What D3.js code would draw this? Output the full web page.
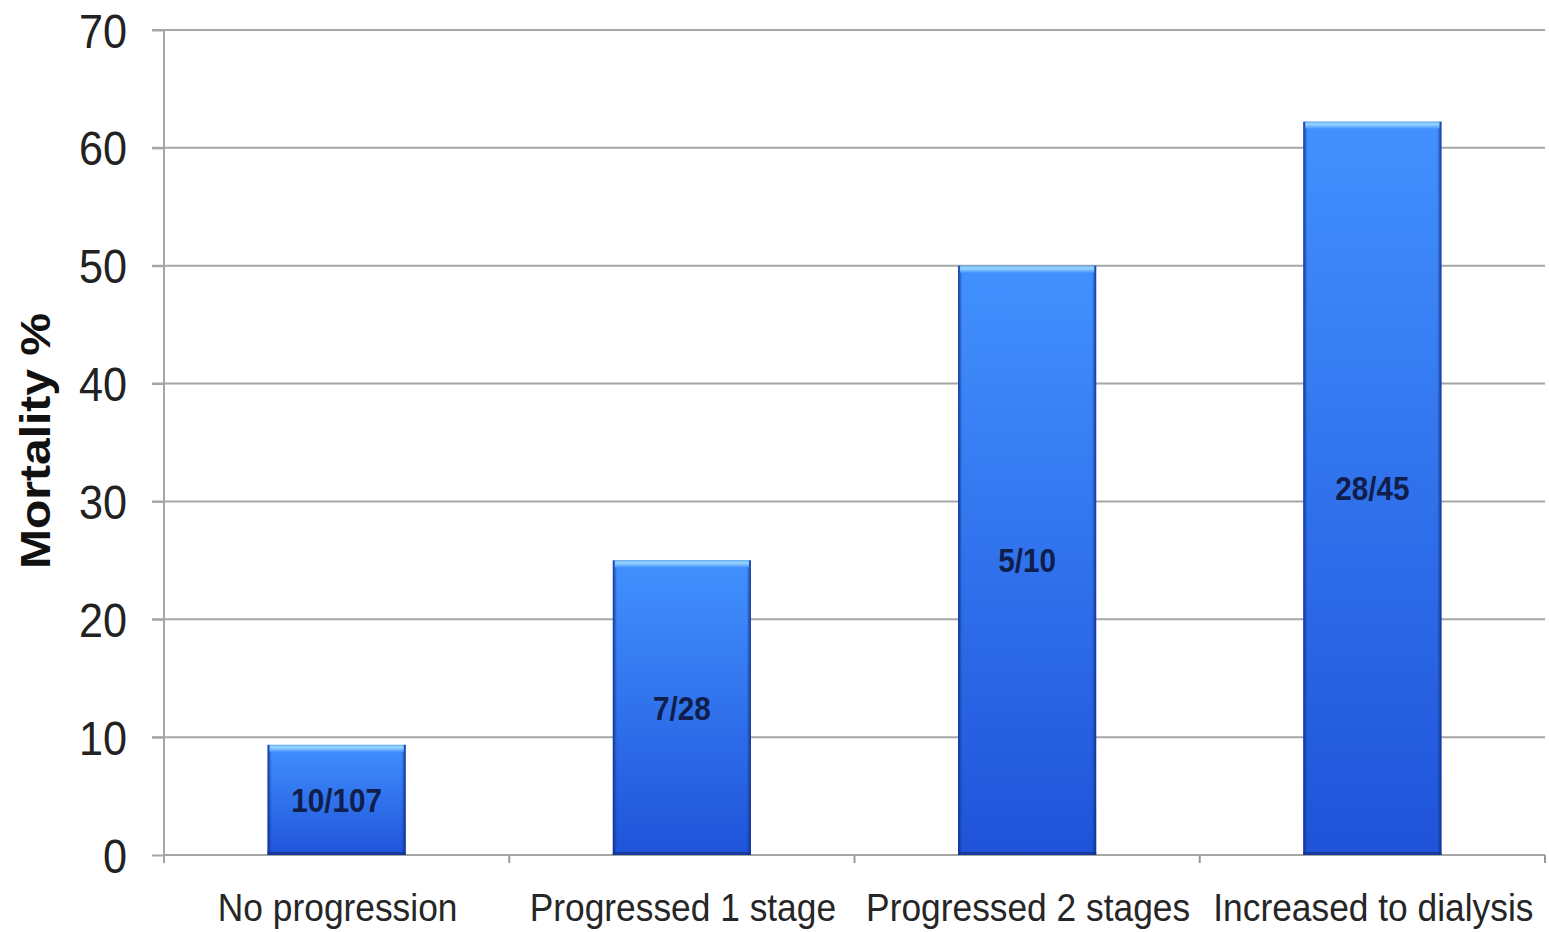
<!DOCTYPE html>
<html>
<head>
<meta charset="utf-8">
<script src="https://cdn.jsdelivr.net/npm/d3@7"></script>
<style>
  html, body { margin: 0; padding: 0; background: #ffffff; }
  svg { display: block; }
  text { font-family: Arial, "Liberation Sans", Helvetica, sans-serif; }
</style>
</head>
<body>
<svg id="chart" width="1549" height="932"></svg>
<script>
// Mortality by stage of kidney-injury progression
const categories = ["No progression", "Progressed 1 stage", "Progressed 2 stages", "Increased to dialysis"];
const deaths = [10, 7, 5, 28];
const patients = [107, 28, 10, 45];
const yTicks = [0, 10, 20, 30, 40, 50, 60, 70];

const mortality = deaths.map((d, i) => d / patients[i] * 100);
const ratioLabels = deaths.map((d, i) => `${d}/${patients[i]}`);

const svg = d3.select("#chart");

const plotLeft = 164, plotRight = 1545, plotTop = 30, plotBottom = 855;

const x = d3.scaleBand().domain(categories).range([plotLeft, plotRight])
  .paddingInner(0.6).paddingOuter(0.3);
const y = d3.scaleLinear().domain([0, 70]).range([plotBottom, plotTop]);

// gradients
const defs = svg.append("defs");
const grad = defs.append("linearGradient").attr("id", "barFill")
  .attr("x1", 0).attr("y1", 0).attr("x2", 0).attr("y2", 1);
grad.append("stop").attr("offset", "0%").attr("stop-color", "#4291ff");
grad.append("stop").attr("offset", "100%").attr("stop-color", "#1f53d9");

const side = defs.append("linearGradient").attr("id", "barSide")
  .attr("x1", 0).attr("y1", 0).attr("x2", 1).attr("y2", 0);
side.append("stop").attr("offset", "0%").attr("stop-color", "#102f86").attr("stop-opacity", 0.9);
side.append("stop").attr("offset", "3%").attr("stop-color", "#102f86").attr("stop-opacity", 0);
side.append("stop").attr("offset", "97%").attr("stop-color", "#102f86").attr("stop-opacity", 0);
side.append("stop").attr("offset", "100%").attr("stop-color", "#102f86").attr("stop-opacity", 0.9);

const cap = defs.append("linearGradient").attr("id", "barCap")
  .attr("x1", 0).attr("y1", 0).attr("x2", 0).attr("y2", 1);
cap.append("stop").attr("offset", "0%").attr("stop-color", "#6aaef0");
cap.append("stop").attr("offset", "35%").attr("stop-color", "#9ad6ff");
cap.append("stop").attr("offset", "100%").attr("stop-color", "#4a95ff");

// gridlines
svg.append("g").selectAll("line").data(yTicks.slice(1)).join("line")
  .attr("x1", plotLeft - 12).attr("x2", plotRight)
  .attr("y1", d => y(d)).attr("y2", d => y(d))
  .attr("stroke", "#a6a6a6").attr("stroke-width", 2);

// y axis
const yAxis = svg.append("g").attr("transform", `translate(${plotLeft},0)`)
  .call(d3.axisLeft(y).tickValues(yTicks).tickSize(12).tickPadding(0).tickFormat(d3.format("d")));
yAxis.select(".domain").attr("stroke", "#a6a6a6").attr("stroke-width", 2)
  .attr("d", `M0,${plotTop}V${plotBottom + 8}`);
yAxis.selectAll(".tick line").attr("stroke", "#a6a6a6").attr("stroke-width", 2);
yAxis.selectAll(".tick text")
  .attr("x", null).attr("dy", null)
  .attr("font-size", 48).attr("fill", "#222")
  .attr("text-anchor", "end")
  .attr("transform", "translate(-37,17) scale(0.9,1)");

// x axis
svg.append("line").attr("x1", plotLeft).attr("x2", plotRight)
  .attr("y1", plotBottom).attr("y2", plotBottom)
  .attr("stroke", "#a6a6a6").attr("stroke-width", 2);
const step = x.step();
svg.append("g").selectAll("line").data(d3.range(1, categories.length + 1)).join("line")
  .attr("x1", i => plotLeft + i * step).attr("x2", i => plotLeft + i * step)
  .attr("y1", plotBottom).attr("y2", plotBottom + 8)
  .attr("stroke", "#999").attr("stroke-width", 2);

svg.append("g").selectAll("text").data(categories).join("text")
  .attr("transform", d => `translate(${x(d) + x.bandwidth() / 2 + 1},921) scale(0.93,1)`)
  .attr("text-anchor", "middle")
  .attr("font-size", 38).attr("fill", "#262626")
  .text(d => d);

// bars
const bars = svg.append("g").selectAll("g").data(categories).join("g");
bars.append("rect")
  .attr("x", d => x(d)).attr("width", x.bandwidth())
  .attr("y", (d, i) => y(mortality[i]))
  .attr("height", (d, i) => y(0) - y(mortality[i]))
  .attr("fill", "url(#barFill)");
bars.append("rect")
  .attr("x", d => x(d)).attr("width", x.bandwidth())
  .attr("y", (d, i) => y(mortality[i]))
  .attr("height", (d, i) => y(0) - y(mortality[i]))
  .attr("fill", "url(#barSide)");
// bottom shade
bars.append("rect")
  .attr("x", d => x(d)).attr("width", x.bandwidth())
  .attr("y", y(0) - 3).attr("height", 3)
  .attr("fill", "#14338f").attr("opacity", 0.8);
// top bevel highlight
bars.append("rect")
  .attr("x", d => x(d) + 2).attr("width", x.bandwidth() - 4)
  .attr("y", (d, i) => y(mortality[i]))
  .attr("height", 7)
  .attr("fill", "url(#barCap)");

// ratio labels
bars.append("text")
  .attr("transform", (d, i) => {
    const cy = (y(mortality[i]) + y(0)) / 2;
    return `translate(${x(d) + x.bandwidth() / 2},${cy + 12}) scale(0.9,1)`;
  })
  .attr("text-anchor", "middle")
  .attr("font-size", 33).attr("font-weight", "bold").attr("fill", "#0f1e4a")
  .text((d, i) => ratioLabels[i]);

// y title
svg.append("text")
  .attr("transform", "translate(50,441) scale(0.87,1) rotate(-90)")
  .attr("text-anchor", "middle")
  .attr("font-size", 48).attr("font-weight", "bold").attr("fill", "#111")
  .text("Mortality %");
</script>
</body>
</html>
